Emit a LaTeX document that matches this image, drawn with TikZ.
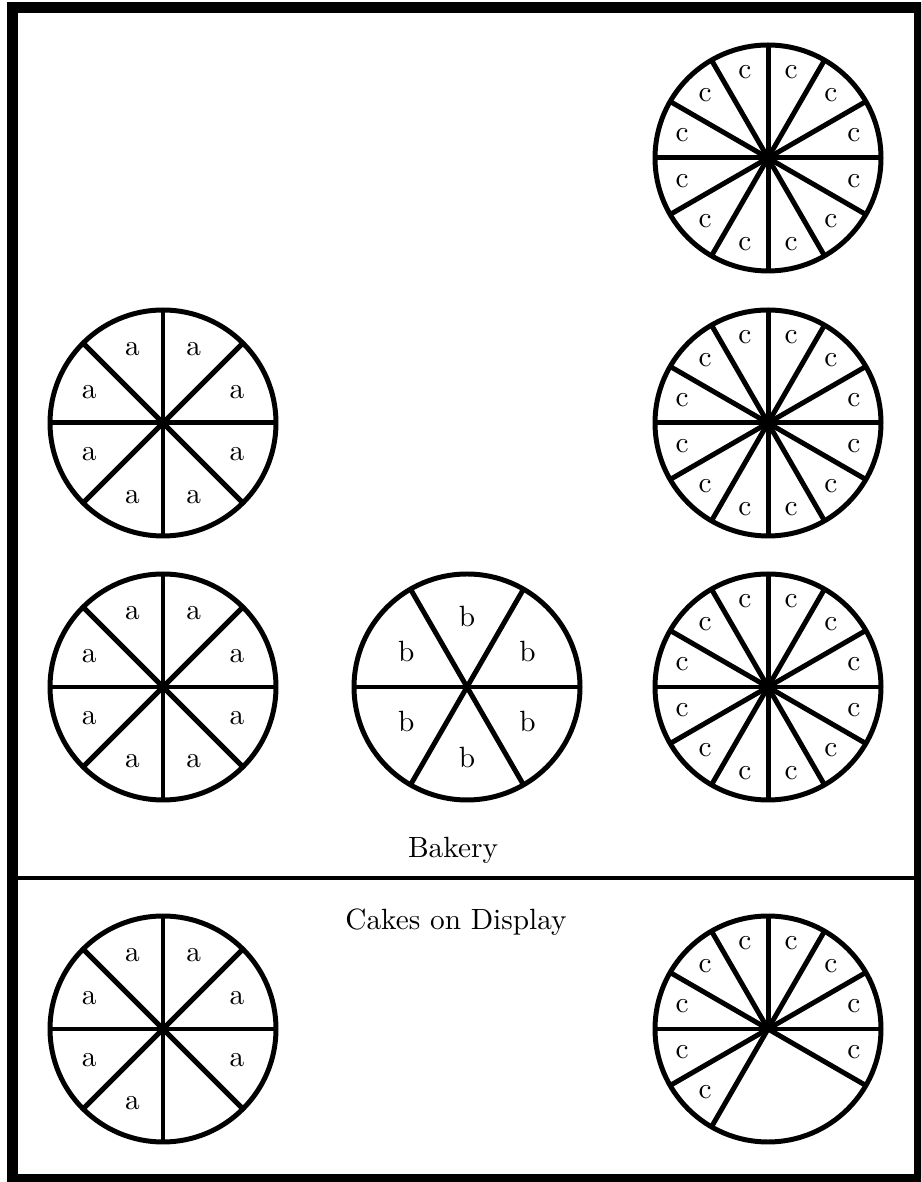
\documentclass[tikz,border=0pt]{standalone}
\usetikzlibrary{calc}

\begin{document}
\begin{tikzpicture}[x=0.3413pt,y=0.3413pt]
  \tikzstyle{cake}=[line width=1.7pt]
  \tikzstyle{slice}=[inner sep=0pt]
  \useasboundingbox (0,0) rectangle (921,1182);
  \clip (0,0) rectangle (921,1182);
  \draw[line width=3.75pt] (12.5,2.5) rectangle (919.5,1174.5);
  \coordinate (wl) at (18,304);
  \coordinate (wr) at (914,304);
  \draw[line width=1.4pt] (wl) -- (wr);
  % cakes in the bakery
  \coordinate (a1) at (163,759);
  \coordinate (a2) at (163,495);
  \coordinate (b1) at (467,495);
  \coordinate (c1) at (768,1024);
  \coordinate (c2) at (768,759);
  \coordinate (c3) at (768,495);
  % cakes on display
  \coordinate (a3) at (163,153);
  \coordinate (c4) at (768,153);
  \foreach \cake/\n/\lab/\rad in {a1/8/a/80, a2/8/a/80, b1/6/b/70,
      c1/12/c/89, c2/12/c/89, c3/12/c/89} {
    \draw[cake] (\cake) circle (113);
    \foreach \k in {1,...,\n}
      \draw[cake] (\cake) -- ++({360/\n*\k}:113);
    \foreach \k in {1,...,\n}
      \node[slice] (\cake-\k) at ($(\cake)+({360/\n*(\k-0.5)}:\rad)$) {\lab};
  }
  % one slice of a gone
  \draw[cake] (a3) circle (113);
  \foreach \k in {1,...,8}
    \draw[cake] (a3) -- ++({45*\k}:113);
  \foreach \k in {1,...,6,8}
    \node[slice] (a3-\k) at ($(a3)+({45*(\k-0.5)}:80)$) {a};
  % three slices of c gone
  \draw[cake] (c4) circle (113);
  \foreach \k in {1,...,8,11,12}
    \draw[cake] (c4) -- ++({30*\k}:113);
  \foreach \k in {1,...,8,12}
    \node[slice] (c4-\k) at ($(c4)+({30*(\k-0.5)}:89)$) {c};
  \node (bakery) at (453,332) {Bakery};
  \node (display) at (456,260) {Cakes on Display};
\end{tikzpicture}
\end{document}
